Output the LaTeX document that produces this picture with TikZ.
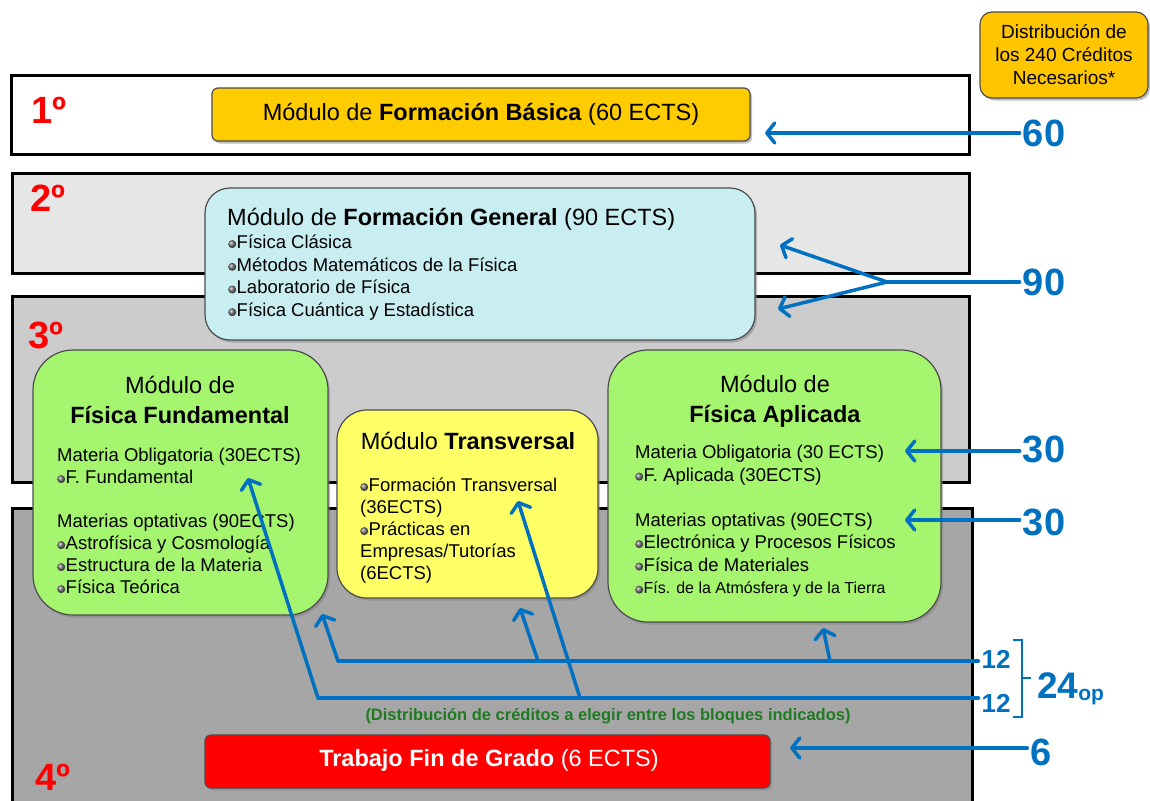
\documentclass[tikz,border=0pt]{standalone}
\usepackage{fontspec}
\setmainfont{Liberation Sans}
\usetikzlibrary{arrows.meta,shadows}
\definecolor{ectsblue}{HTML}{0070C0}
\definecolor{basicgold}{HTML}{FFCC00}
\definecolor{distgold}{HTML}{FFC600}
\definecolor{gencyan}{HTML}{C8EEF2}
\definecolor{modgreen}{HTML}{A6F56E}
\definecolor{transyellow}{HTML}{FFFF66}
\definecolor{tfgred}{HTML}{FF0000}
\definecolor{notegreen}{HTML}{1F7A22}
\definecolor{yearB}{HTML}{E6E6E6}
\definecolor{yearC}{HTML}{CCCCCC}
\definecolor{yearD}{HTML}{A6A6A6}
\newcommand{\bul}{\tikz[baseline=-0.45ex]\shade[ball color=black!55] (0,0) circle (4pt);\hspace{0.5pt}}

\begin{document}
\begin{tikzpicture}[x=1pt, y=-1pt,
  band/.style={draw=black, line width=3pt},
  modbox/.style={draw=black!70, line width=1.2pt, rounded corners=#1,
    drop shadow={shadow xshift=2pt, shadow yshift=-2.5pt, opacity=.5}},
  modtitle/.style={font=\fontsize{23.5}{30}\selectfont, align=center, inner sep=0pt, anchor=base},
  modlist/.style={font=\fontsize{18.5}{22}\selectfont, align=left, inner sep=0pt, anchor=base west},
  yearlbl/.style={text=red, font=\fontsize{38}{38}\selectfont\bfseries},
  credit/.style={text=ectsblue, font=\fontsize{38}{38}\selectfont\bfseries, inner sep=3pt},
  feed/.style={draw=ectsblue, line width=3.5pt, line cap=round},
  feedarr/.style={feed, -{Straight Barb[length=8pt, width=20pt, round]}}]
  \useasboundingbox (0,0) rectangle (1150,800);
  \draw[band, fill=white] (11,75) rectangle (969,154);
  \draw[band, fill=yearB] (12,173) rectangle (969,273);
  \draw[band, fill=yearC] (12,296) rectangle (969,482);
  \draw[band, fill=yearD] (12,508) rectangle (972,820);
  \node[yearlbl] (y1) at (49,110) {1º};
  \node[yearlbl] (y2) at (48,198) {2º};
  \node[yearlbl] (y3) at (46,335) {3º};
  \node[yearlbl] (y4) at (53,777) {4º};

  \node[modbox=6pt, fill=basicgold, minimum width=538pt, minimum height=53pt] (basic) at (481,114.5) {};
  \node[font=\fontsize{23.5}{27}\selectfont] (basicT) at (basic) {Módulo de \textbf{Formación Básica} (60 ECTS)};

  \node[modbox=25pt, fill=gencyan, minimum width=550pt, minimum height=152pt] (gen) at (480,264) {};
  \node[modtitle, anchor=base west] (genT) at (227,225) {Módulo de \textbf{Formación General} (90 ECTS)};
  \node[modlist, font=\fontsize{18.5}{22.7}\selectfont] (genL) at (228,316.6) {\bul Física Clásica\\ \bul Métodos Matemáticos de la Física\\ \bul Laboratorio de Física\\ \bul Física Cuántica y Estadística};

  \node[modbox=40pt, fill=modgreen, minimum width=295pt, minimum height=265pt] (fund) at (180.5,482.5) {};
  \node[modtitle] (fundT) at (180,423) {Módulo de\\ \textbf{Física Fundamental}};
  \node[modlist] (fundL) at (57,593.5) {Materia Obligatoria (30ECTS)\\ \bul F. Fundamental\\[22pt] Materias optativas (90ECTS)\\ \bul Astrofísica y Cosmología\\ \bul Estructura de la Materia\\ \bul Física Teórica};

  \node[modbox=30pt, fill=transyellow, minimum width=261pt, minimum height=188pt] (trans) at (467.5,504) {};
  \node[modtitle] (transT) at (468,449) {Módulo \textbf{Transversal}};
  \node[modlist] (transL) at (360,579.5) {\bul Formación Transversal\\ (36ECTS)\\ \bul Prácticas en\\ Empresas/Tutorías\\ (6ECTS)};

  \node[modbox=40pt, fill=modgreen, minimum width=333pt, minimum height=272pt] (apl) at (774.5,486) {};
  \node[modtitle] (aplT) at (775,422) {Módulo de\\ \textbf{Física Aplicada}};
  \node[modlist, font=\fontsize{18.5}{22.5}\selectfont] (aplL) at (635,593.5) {Materia Obligatoria (30 ECTS)\\ \bul F. Aplicada (30ECTS)\\[22.5pt] Materias optativas (90ECTS)\\ \bul Electrónica y Procesos Físicos\\ \bul Física de Materiales\\ {\fontsize{16}{22.5}\selectfont\bul Fís. de la Atmósfera y de la Tierra}};

  \node[modbox=6pt, fill=tfgred, minimum width=565pt, minimum height=53pt] (tfg) at (487.5,761.5) {};
  \node[text=white, font=\fontsize{23.5}{26}\selectfont] (tfgT) at (489,760) {\textbf{Trabajo Fin de Grado} (6 ECTS)};

  \node[modbox=12pt, fill=distgold, minimum width=168pt, minimum height=86pt] (dist) at (1064,55) {};
  \node[font=\fontsize{19}{23}\selectfont, align=center] (distT) at (dist) {Distribución de\\ los 240 Créditos\\ Necesarios*};

  \node[text=notegreen, font=\fontsize{16.5}{19}\selectfont\bfseries] (note) at (608,716) {(Distribución de créditos a elegir entre los bloques indicados)};

  \node[credit] (c60) at (1044,133) {60};
  \coordinate (t60) at (765,133);
  \draw[feedarr] (t60 -| c60.west) -- (t60);

  \node[credit] (c90) at (1044,282) {90};
  \coordinate (j90) at (887,282);
  \coordinate (t90a) at (780,245);
  \coordinate (t90b) at (778,309);
  \draw[feed] (j90 -| c90.west) -- (j90);
  \draw[feedarr] (j90) -- (t90a);
  \draw[feedarr] (j90) -- (t90b);

  \node[credit] (c30a) at (1044,449) {30};
  \coordinate (t30a) at (905,451);
  \draw[feedarr] (t30a -| c30a.west) -- (t30a);
  \node[credit] (c30b) at (1044,522) {30};
  \coordinate (t30b) at (905,520);
  \draw[feedarr] (t30b -| c30b.west) -- (t30b);

  \node[credit, font=\fontsize{26}{26}\selectfont\bfseries] (c12a) at (996,659) {12};
  \coordinate (h1) at (338,661);
  \coordinate (h2) at (538,661);
  \coordinate (h3) at (830,661);
  \coordinate (p1) at (322,614);
  \coordinate (p2) at (520,608);
  \coordinate (p3) at (823,628);
  \draw[feed] (h1 -| c12a.west) -- (h1);
  \draw[feedarr] (h1) -- (p1);
  \draw[feedarr] (h2) -- (p2);
  \draw[feedarr] (h3) -- (p3);

  \node[credit, font=\fontsize{26}{26}\selectfont\bfseries] (c12b) at (996,703) {12};
  \coordinate (g1) at (318,698);
  \coordinate (g2) at (580,698);
  \coordinate (q1) at (248,478);
  \coordinate (q2) at (518,501);
  \draw[feed] (g1 -| c12b.west) -- (g1);
  \draw[feedarr] (g1) -- (q1);
  \draw[feedarr] (g2) -- (q2);

  \draw[draw=ectsblue, line width=2.5pt] (1013,640) -- (1022,640) -- (1022,717) -- (1013,717);
  \draw[draw=ectsblue, line width=2.5pt] (1022,678) -- (1031,678);
  \node[text=ectsblue, font=\fontsize{37}{37}\selectfont\bfseries, anchor=west, inner sep=0pt] (c24) at (1037,689) {24\raisebox{-2pt}{\fontsize{21}{21}\selectfont op}};

  \node[credit] (c6) at (1041,752) {6};
  \coordinate (t6) at (790,748);
  \draw[feedarr] (t6 -| c6.west) -- (t6);
\end{tikzpicture}
\end{document}
